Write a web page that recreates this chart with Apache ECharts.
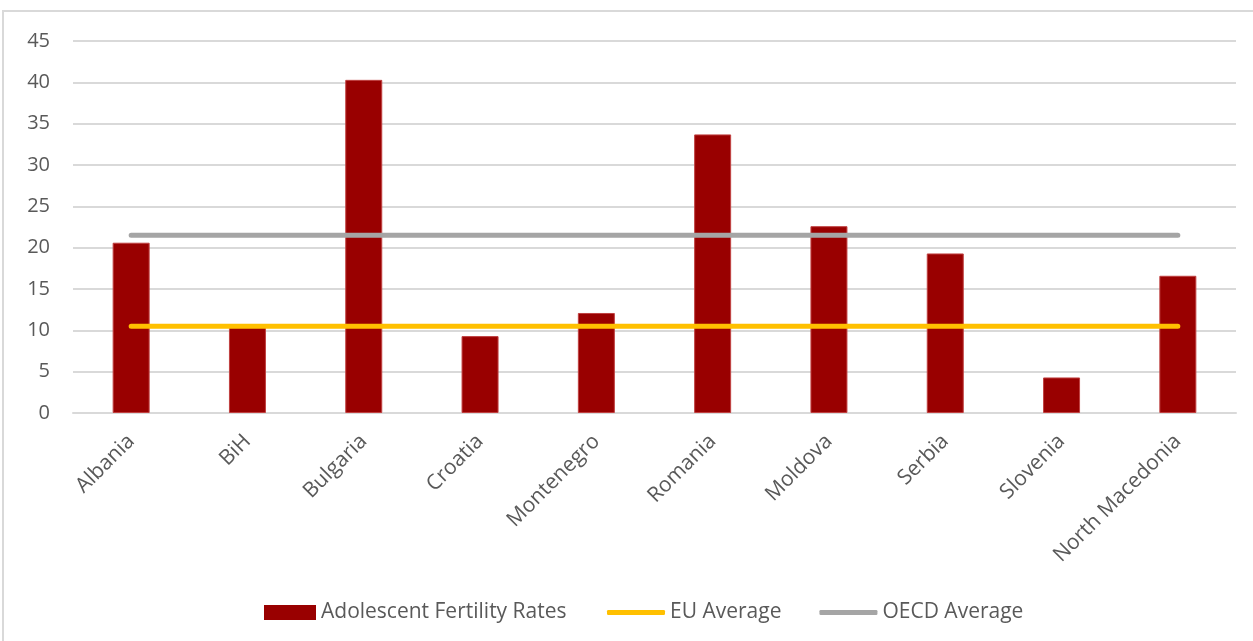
<!DOCTYPE html>
<html>
<head>
<meta charset="utf-8">
<script src="https://cdn.jsdelivr.net/npm/echarts@6/dist/echarts.min.js"></script>
<style>
html,body{margin:0;padding:0;background:#fff;}
#chart{width:1253px;height:641px;}
</style>
</head>
<body>
<div id="chart"></div>
<script>
var countries = ['Albania','BiH','Bulgaria','Croatia','Montenegro','Romania','Moldova','Serbia','Slovenia','North Macedonia'];
var fertilityRates = [20.6, 10.4, 40.3, 9.3, 12.1, 33.7, 22.6, 19.3, 4.3, 16.6];
var euAverage = [10.5, 10.5, 10.5, 10.5, 10.5, 10.5, 10.5, 10.5, 10.5, 10.5];
var oecdAverage = [21.5, 21.5, 21.5, 21.5, 21.5, 21.5, 21.5, 21.5, 21.5, 21.5];

var chart = echarts.init(document.getElementById('chart'));
var txt = '#595959';
option = {
    animation: false,
    textStyle: { fontFamily: 'Open Sans' },
    graphic: [{
        type: 'rect',
        shape: { x: 3, y: 11, width: 1300, height: 700 },
        style: { fill: 'none', stroke: '#d9d9d9', lineWidth: 2 },
        silent: true
    }],
    grid: { left: 73, right: 17, top: 41, bottom: 228 },
    // two legends: bar swatch is tall, line swatches are thin
    legend: [{
        bottom: 18,
        left: 264,
        padding: 0,
        itemWidth: 52,
        itemHeight: 15,
        textStyle: { color: txt, fontSize: 21, fontFamily: 'Open Sans' },
        data: [{ name: 'Adolescent Fertility Rates', icon: 'rect', itemStyle: { borderWidth: 0 } }]
    }, {
        bottom: 18,
        left: 607,
        padding: 0,
        itemGap: 38,
        itemWidth: 58,
        itemHeight: 5,
        textStyle: { color: txt, fontSize: 21, fontFamily: 'Open Sans' },
        data: [
            { name: 'EU Average', icon: 'roundRect' },
            { name: 'OECD Average', icon: 'roundRect' }
        ]
    }],
    xAxis: {
        type: 'category',
        data: countries,
        axisLine: { show: true, lineStyle: { color: '#d9d9d9', width: 2 } },
        axisTick: { show: false },
        axisLabel: { rotate: 45, margin: 25, color: txt, fontSize: 21, interval: 0 }
    },
    yAxis: {
        type: 'value',
        min: 0,
        max: 45,
        interval: 5,
        axisLine: { show: false },
        axisTick: { show: false },
        axisLabel: { color: txt, fontSize: 20, margin: 23 },
        splitLine: { lineStyle: { color: '#d9d9d9', width: 2 } }
    },
    series: [
        {
            name: 'Adolescent Fertility Rates',
            type: 'bar',
            data: fertilityRates,
            barWidth: 37,
            itemStyle: { color: '#990000', borderColor: '#c04040', borderWidth: 1 }
        },
        {
            name: 'EU Average',
            type: 'line',
            data: euAverage,
            symbol: 'none',
            lineStyle: { color: '#ffc000', width: 5, cap: 'round' },
            itemStyle: { color: '#ffc000' }
        },
        {
            name: 'OECD Average',
            type: 'line',
            data: oecdAverage,
            symbol: 'none',
            lineStyle: { color: '#a5a5a5', width: 5, cap: 'round' },
            itemStyle: { color: '#a5a5a5' }
        }
    ]
};
chart.setOption(option);
</script>
</body>
</html>
